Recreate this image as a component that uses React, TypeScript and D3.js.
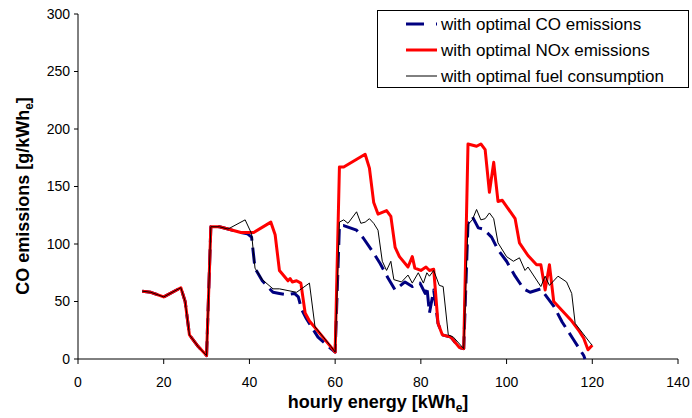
import React from "react";
import * as d3 from "d3";

const xTicks = [0, 20, 40, 60, 80, 100, 120, 140];
const yTicks = [0, 50, 100, 150, 200, 250, 300];

const coX = [15,17,20,24,25,26,28,30,31,33,35,38,39.5,40.5,41.3,43,45.5,47,48.7,50.5,51.4,52.2,53.3,56,59,60,61,62,65,66.6,69,70.5,72.4,74,76.3,78,79.8,81,81.4,82,83,84,85,87,89,90,91,92,93.4,94.6,96.5,98,100,102,104,105.5,108,111,113,115.6,118,118.3];
const coY = [59,58,54,62,50,21,11,3,115,115,113,110,109,106,79,68,58,57,56,57,54,43,35,19,9,6,116,116,112,105,92,83,70,60,67,63,66,57,63,40,60,31,21,19,10,9,118,124,114,113,106,95,85,72,61,58,61,46,32,17,3,0];

const noxX = [15,17,20,24,25,26,28,30,31,33,35,38,40,41,45,46,47,49,49.5,50,51,52,53,54,56.5,60,61,62,67,68,69,70,72,73,74,75,77,78,78.6,80,81.2,82,83,84,85,87,89,90,91,93,94,95,96,97,98,99,102,103,105,107,108,109,110,111,115,117,118,119,120];
const noxY = [59,58,54,62,50,21,11,3,115,115,113,110,110,110,119,108,77,68,70,67,68,66,40,33,22,6,167,167,178,166,136,126,129,124,97,89,80,89,79,77,80,77,78,31,21,19,10,9,187,185,187,182,145,171,137,138,122,101,90,82,82,60,82,50,34,24,18,8,12];

const fuelX = [15,17,20,24,25,26,28,30,31,33,35,39,40.5,41.3,43,45.5,47,51,54,55.3,59,60,61,62,63,65,66,67,68,69,70,71,72,73,73.7,75.5,77,78,79.4,80.6,81.4,82,83,84.3,85.2,86.4,87.6,90,91,92,93,94,95,96,97,98,100,101.6,103,104.3,105,108,109,110,112,114,115.2,116,119.5,120];
const fuelY = [59,58,54,62,50,21,11,3,115,115,113,121,109,79,69,61,61,58,66,28,11,6,119,121,118,128,118,119,122,118,112,85,77,85,69,67,73,66,75,66,75,72,77,64,63,21,19,9,117,121,130,121,122,127,122,101,89,85,88,77,80,63,72,64,72,67,57,31,14,12];

const legendLabels = ["with optimal CO emissions", "with optimal NOx emissions", "with optimal fuel consumption"];

const W = 692, H = 418;
const m = { left: 78, right: 678, top: 14, bottom: 359 };
const font = "'Liberation Sans', Arial, sans-serif";

export default function App() {
  const x = d3.scaleLinear().domain([0, 140]).range([m.left, m.right]);
  const y = d3.scaleLinear().domain([0, 300]).range([m.bottom, m.top]);
  const line = d3.line<[number, number]>().x(d => x(d[0])).y(d => y(d[1]));
  const zip = (a: number[], b: number[]) => a.map((v, i) => [v, b[i]] as [number, number]);

  const series = [
    { pts: zip(coX, coY), color: "#000080", w: 3, dash: "16,7" },
    { pts: zip(noxX, noxY), color: "#ff0000", w: 3, dash: undefined },
    { pts: zip(fuelX, fuelY), color: "#000000", w: 1, dash: undefined },
  ];

  return (
    <svg width={W} height={H} style={{ position: "absolute", left: 0, top: 0 }} fontFamily={font}>
      <rect x={0} y={0} width={W} height={H} fill="#fff" />
      <line x1={m.left} x2={m.left} y1={m.top} y2={m.bottom} stroke="#000" strokeWidth={1} />
      <line x1={m.left} x2={m.right} y1={m.bottom} y2={m.bottom} stroke="#000" strokeWidth={1} />
      {yTicks.map(t => (
        <g key={"y" + t}>
          <line x1={m.left - 4} x2={m.left} y1={y(t)} y2={y(t)} stroke="#000" />
          <text x={m.left - 8} y={y(t)} dy="0.35em" textAnchor="end" fontSize={14}>{t}</text>
        </g>
      ))}
      {xTicks.map(t => (
        <g key={"x" + t}>
          <line x1={x(t)} x2={x(t)} y1={m.bottom} y2={m.bottom + 5} stroke="#000" />
          <text x={x(t)} y={m.bottom + 28} textAnchor="middle" fontSize={14}>{t}</text>
        </g>
      ))}
      {series.map((s, i) => (
        <path key={i} d={line(s.pts) || ""} fill="none" stroke={s.color} strokeWidth={s.w}
          strokeDasharray={s.dash} strokeLinejoin="round" />
      ))}
      <text x={(m.left + m.right) / 2} y={408} textAnchor="middle" fontSize={18} fontWeight="bold">
        hourly energy [kWh<tspan fontSize={12} dy={4}>e</tspan><tspan dy={-4}>]</tspan>
      </text>
      <text transform={`translate(29,196) rotate(-90)`} textAnchor="middle" fontSize={18} fontWeight="bold">
        CO emissions [g/kWh<tspan fontSize={12} dy={4}>e</tspan><tspan dy={-4}>]</tspan>
      </text>
      <rect x={377.5} y={10.5} width={311} height={77} fill="#fff" stroke="#000" />
      {legendLabels.map((l, i) => {
        const s = series[i];
        const yy = 24 + i * 26;
        return (
          <g key={l}>
            <line x1={406} x2={437} y1={yy} y2={yy} stroke={s.color} strokeWidth={s.w}
              strokeDasharray={s.dash ? "18,12" : undefined} />
            <text x={441} y={yy} dy="0.35em" fontSize={17}>{l}</text>
          </g>
        );
      })}
    </svg>
  );
}
